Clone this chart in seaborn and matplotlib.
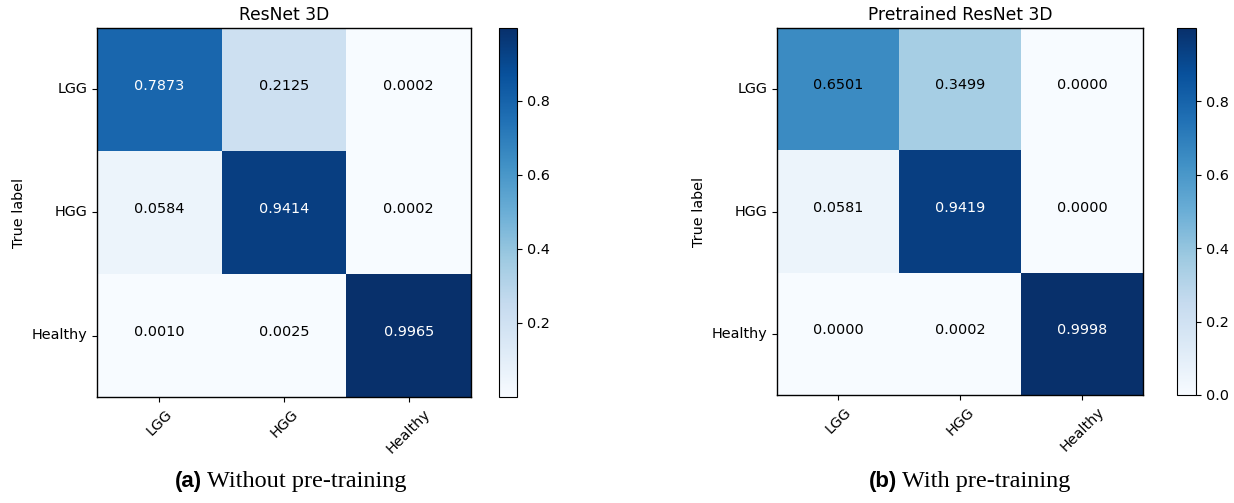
import numpy as np
import pandas as pd
import matplotlib
matplotlib.use("Agg")
import matplotlib.pyplot as plt
import seaborn as sns

# === DATA ===
classes = ["LGG", "HGG", "Healthy"]
cm_scratch = [
    [0.7873, 0.2125, 0.0002],
    [0.0584, 0.9414, 0.0002],
    [0.0010, 0.0025, 0.9965],
]
cm_pretrained = [
    [0.6501, 0.3499, 0.0000],
    [0.0581, 0.9419, 0.0000],
    [0.0000, 0.0002, 0.9998],
]
titles = ["ResNet 3D", "Pretrained ResNet 3D"]
captions = [("(a)", "Without pre-training"), ("(b)", "With pre-training")]

FS = 10.4


def draw_cm(fig, rect, cbar_rect, values, title, thresh=0.7):
    df = pd.DataFrame(values, index=classes, columns=classes)
    ax = fig.add_axes(rect)
    cax = fig.add_axes(cbar_rect)
    sns.heatmap(df, ax=ax, cbar_ax=cax, cmap="Blues",
                vmin=df.values.min(), vmax=df.values.max(),
                annot=True, fmt=".4f", annot_kws={"fontsize": FS})
    # text colour like the classic sklearn plot, numbers sit a bit high
    for t in ax.texts:
        v = float(t.get_text())
        t.set_color("white" if v > thresh else "black")
        x, y = t.get_position()
        t.set_position((x, y - 0.03))
    for s in ax.spines.values():
        s.set_visible(True)
        s.set_color("black")
        s.set_linewidth(1.0)
    cb = ax.collections[0].colorbar
    cb.outline.set_linewidth(0.8)
    cb.outline.set_edgecolor("black")
    cb.set_ticks([t for t in [0.0, 0.2, 0.4, 0.6, 0.8] if t >= df.values.min()])
    cax.tick_params(labelsize=FS)
    ax.tick_params(axis="both", length=3.5, labelsize=FS)
    plt.setp(ax.get_xticklabels(), rotation=45, ha="center")
    plt.setp(ax.get_yticklabels(), rotation=0, va="center")
    ax.set_ylabel("True label", fontsize=FS)
    ax.set_xlabel("")
    ax.set_title(title, fontsize=12.3)
    return ax


def main():
    fig = plt.figure(figsize=(12.34, 5.03), dpi=100)

    draw_cm(fig, [97 / 1234, 106 / 503, 374 / 1234, 369 / 503],
            [499 / 1234, 106 / 503, 18 / 1234, 369 / 503],
            cm_scratch, titles[0])
    draw_cm(fig, [777 / 1234, 108 / 503, 366 / 1234, 367 / 503],
            [1177 / 1234, 108 / 503, 19 / 1234, 367 / 503],
            cm_pretrained, titles[1])

    # captions: bold sans label + serif text
    for (lab, txt), (xl, xt) in zip(captions, [(202, 207), (897, 902)]):
        fig.text(xl / 1234, 0.032, lab, fontsize=16, fontweight="bold",
                 family="Liberation Sans", ha="right", va="baseline")
        fig.text(xt / 1234, 0.032, txt, fontsize=17.5,
                 family="Liberation Serif", ha="left", va="baseline")

    fig.savefig("out.png", dpi=100)
    plt.close(fig)


if __name__ == '__main__':
    main()
